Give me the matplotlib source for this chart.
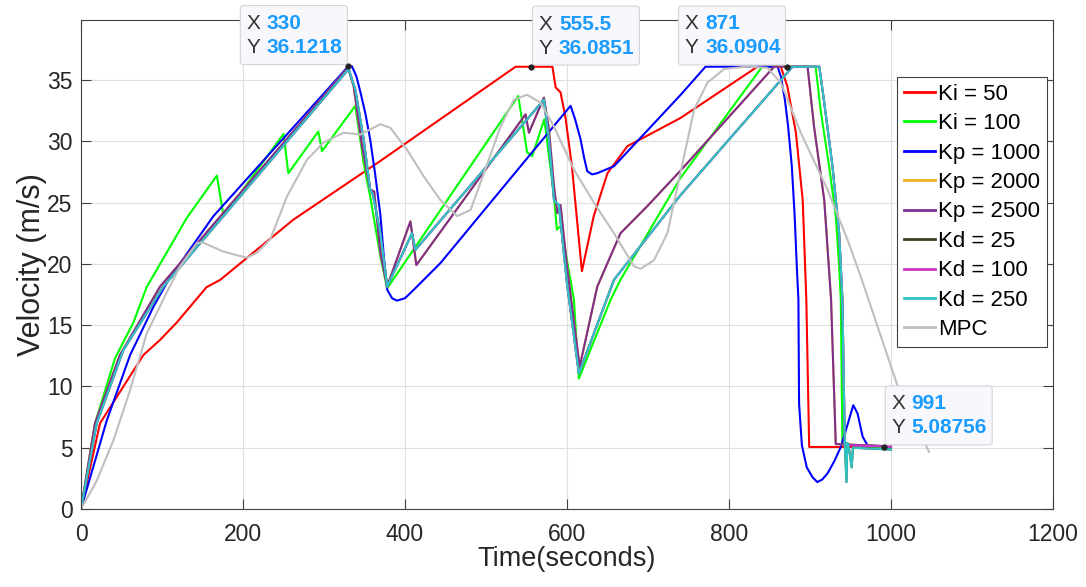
import matplotlib
matplotlib.use('Agg')
import matplotlib.pyplot as plt
from matplotlib.patches import FancyBboxPatch
from matplotlib.transforms import ScaledTranslation

plt.rcParams['font.family'] = ['Liberation Sans', 'DejaVu Sans']

# ---------------- data ----------------
ki50_t = [0, 23.5, 77, 97.6, 118, 155, 172, 262, 369.6, 536.5, 582, 586, 592, 598, 606, 618.4,
          633, 650, 674.5, 740, 835, 864, 872, 882.6, 891, 895.5, 899, 1000]
ki50_v = [0, 7.0, 12.56, 13.8, 15.2, 18.1, 18.7, 23.6, 28.4, 36.0851, 36.0851, 34.4, 34.0, 32.0, 28.0, 19.4,
          23.9, 27.4, 29.6, 31.9, 36.0851, 36.0851, 34.5, 30.7, 25.2, 17.0, 5.06, 5.06]

ki100_t = [0, 17.3, 42, 64.6, 81, 130.6, 167.7, 176, 250, 256, 293, 297.5, 338.7, 349, 357, 369.6,
           377.9, 539.8, 550.8, 557, 572, 584, 587.5, 592.5, 608.5, 614.7, 654, 666, 740,
           841, 907, 913, 923.5, 931.8, 936, 938, 940, 1000]
ki100_v = [0, 7.0, 12.3, 15.2, 18.1, 23.75, 27.2, 23.9, 30.6, 27.4, 30.8, 29.2, 32.9, 28.2, 25.5, 20.6,
           18.0, 33.7, 29.1, 28.8, 31.8, 25.5, 22.8, 23.1, 17.1, 10.65, 17.1, 18.7, 27.0,
           36.0904, 36.0904, 32.6, 28.0, 23.9, 19.8, 17.1, 5.3, 4.95]

kp1000_t = [0, 31.7, 60.6, 89.4, 108, 163.5, 330, 334.5, 340, 345, 351, 357, 363, 369.6, 374, 378,
            384, 390, 400, 411, 443.8, 604.4, 610, 616.8, 621, 625, 631, 637.4, 658, 740.4, 771,
            860, 864, 869, 873, 877.5, 881, 883.7, 885.7, 886.5, 890, 896, 903, 909, 915, 921.6,
            930, 938, 946, 953.4, 958.7, 965, 971, 1000]
kp1000_v = [0, 7.2, 12.56, 16.5, 18.7, 23.9, 36.1218, 36.1218, 35.3, 34.0, 32.3, 30.15, 27.4, 24.0, 20.5, 17.9,
            17.2, 17.0, 17.2, 17.9, 20.07, 32.9, 31.8, 30.15, 28.7, 27.56, 27.3, 27.4, 27.97, 33.8, 36.0904,
            36.0904, 35.3, 33.4, 31.2, 28.0, 24.0, 19.8, 17.1, 8.6, 5.2, 3.4, 2.6, 2.2, 2.4, 2.9,
            3.9, 5.06, 6.8, 8.47, 7.8, 5.9, 5.2, 5.1]

kp2000_t = [0, 17.3, 48, 97.6, 329.6, 336.6, 347, 357, 362, 369.6, 377.9, 406.7, 414, 548.8, 553,
            571.5, 577.6, 584, 588, 592, 600, 615.6, 637.4, 666, 699, 740, 855.7, 897, 905, 917.6,
            926, 931.8, 1000]
kp2000_v = [0, 7.0, 12.56, 18.15, 36.0, 34.5, 29.6, 26.06, 25.9, 20.9, 18.15, 23.47, 19.9, 32.2, 30.7,
            33.57, 31.0, 26.3, 24.15, 24.8, 19.8, 11.6, 18.15, 22.5, 24.7, 27.6, 36.0904, 36.0904, 31.2, 25.2,
            17.1, 5.3, 5.1]

kp2500_t = [0, 17.3, 48, 97.6, 329.6, 336.6, 347, 357, 362, 369.6, 377.9, 406.7, 414, 548.8, 553,
            571.5, 577.6, 584, 588, 592, 600, 615.6, 637.4, 666, 699, 740, 855.7, 897, 905, 917.6,
            926, 931.8, 1000]
kp2500_v = [0, 7.0, 12.56, 18.15, 36.0, 34.5, 29.6, 26.06, 25.9, 20.9, 18.15, 23.47, 19.9, 32.2, 30.7,
            33.57, 31.0, 26.3, 24.15, 24.8, 19.8, 11.6, 18.15, 22.5, 24.7, 27.6, 36.0904, 36.0904, 31.2, 25.2,
            17.1, 5.3, 5.1]

kd25_t = [0, 19.4, 52.3, 101.7, 330.4, 338.7, 349, 357, 360.5, 369.6, 378, 408.7, 412.8, 571.5,
          577.6, 584, 590, 600, 614.7, 658, 740, 878.5, 911.5, 917.6, 927.7, 936, 940, 943,
          945, 946, 948, 951.5, 953, 1000]
kd25_v = [0, 7.0, 12.97, 18.15, 35.9, 34.2, 30.15, 26.06, 25.6, 22.5, 18.15, 22.5, 21.15, 33.4,
          30.15, 25.2, 24.8, 18.4, 11.06, 18.7, 25.6, 36.0904, 36.0904, 33.15, 28.0, 22.5, 17.1, 5.3,
          2.2, 5.4, 5.0, 3.4, 5.0, 4.85]

kd100_t = [0, 19.4, 52.3, 101.7, 330.4, 338.7, 349, 357, 360.5, 369.6, 378, 408.7, 412.8, 571.5,
           577.6, 584, 590, 600, 614.7, 658, 740, 878.5, 911.5, 917.6, 927.7, 936, 940, 943, 1000]
kd100_v = [0, 7.0, 12.97, 18.15, 35.9, 34.2, 30.15, 26.06, 25.6, 22.5, 18.15, 22.5, 21.15, 33.4,
           30.15, 25.2, 24.8, 18.4, 11.06, 18.7, 25.6, 36.0904, 36.0904, 33.15, 28.0, 22.5, 17.1, 5.2, 5.09]

kd250_t = [0, 19.4, 52.3, 101.7, 330.4, 338.7, 349, 357, 360.5, 369.6, 378, 408.7, 412.8, 571.5,
           577.6, 584, 590, 600, 614.7, 658, 740, 878.5, 911.5, 917.6, 927.7, 936, 940, 943,
           945, 946, 948, 951.5, 953, 1000]
kd250_v = [0, 7.0, 12.97, 18.15, 35.9, 34.2, 30.15, 26.06, 25.6, 22.5, 18.15, 22.5, 21.15, 33.4,
           30.15, 25.2, 24.8, 18.4, 11.06, 18.7, 25.6, 36.0904, 36.0904, 33.15, 28.0, 22.5, 17.1, 5.3,
           2.2, 5.4, 5.0, 3.4, 5.0, 4.85]

mpc_t = [0, 19.4, 40, 60.6, 81, 106, 122.4, 143, 150, 176, 204.8, 217, 233.6, 254.3, 279, 299.5,
         324, 345, 369.6, 382, 402.6, 423, 443.8, 464.3, 481, 497.4, 518, 534.5, 550.8, 567.3,
         583.9, 608.5, 633.2, 658, 682.7, 690.9, 707.4, 723.9, 740, 757, 773.5, 794, 822.6, 847,
         864, 888.6, 921.6, 946.3, 963, 1008.5, 1047]
mpc_v = [0, 2.3, 5.6, 9.7, 14.3, 17.7, 19.8, 21.7, 21.75, 21.0, 20.5, 20.9, 22.0, 25.5, 28.5, 29.9,
         30.7, 30.56, 31.4, 31.1, 29.3, 27.15, 25.2, 23.9, 24.4, 27.4, 31.2, 33.4, 33.8, 33.15,
         31.2, 27.7, 25.0, 22.5, 19.8, 19.6, 20.3, 22.5, 27.4, 32.6, 34.8, 35.9, 36.1, 36.0,
         34.8, 30.7, 26.06, 21.97, 18.9, 9.97, 4.65]

labels = ['Ki = 50', 'Ki = 100', 'Kp = 1000', 'Kp = 2000', 'Kp = 2500',
          'Kd = 25', 'Kd = 100', 'Kd = 250', 'MPC']
colors = ['#FF0000', '#00FF00', '#0000FF', '#EDB120', '#7E2F8E',
          '#3F3F22', '#CC33CC', '#2EC4C4', '#BFBFBF']
series = [(ki50_t, ki50_v), (ki100_t, ki100_v), (kp1000_t, kp1000_v), (kp2000_t, kp2000_v),
          (kp2500_t, kp2500_v), (kd25_t, kd25_v), (kd100_t, kd100_v), (kd250_t, kd250_v),
          (mpc_t, mpc_v)]

tip_x = [330, 555.5, 871, 991]
tip_y = [36.1218, 36.0851, 36.0904, 5.08756]
tip_side = ['left', 'right', 'left', 'right']

x_ticks = [0, 200, 400, 600, 800, 1000, 1200]
y_ticks = [0, 5, 10, 15, 20, 25, 30, 35]

# ---------------- figure ----------------
W, H = 1086, 587
fig = plt.figure(figsize=(W / 100, H / 100), dpi=100)
ax = fig.add_axes([81 / W, (H - 509) / H, (1053 - 81) / W, (509 - 20) / H])

for (t, v), lab, c in zip(series, labels, colors):
    ax.plot(t, v, color=c, lw=1.5, label=lab)

ax.set_xlim(0, 1200)
ax.set_ylim(0, 39.9)
ax.set_xticks(x_ticks)
ax.set_yticks(y_ticks)
ax.grid(True, color='#DFDFDF', lw=0.8)
ax.set_axisbelow(True)
for s in ax.spines.values():
    s.set_color('#404040')
    s.set_linewidth(0.8)
ax.tick_params(direction='in', length=7, width=0.8, color='#404040', top=True, right=True,
               labelsize=16.5, labelcolor='#262626')
ax.tick_params(axis='x', pad=10)
ax.tick_params(axis='y', pad=6)
ax.set_xlabel('Time(seconds)', fontsize=19.5, color='#262626', labelpad=0)
ax.set_ylabel('Velocity (m/s)', fontsize=22, color='#262626', labelpad=0)

leg = ax.legend(loc='upper right', bbox_to_anchor=((1047 - 81) / (1053 - 81), (509 - 77) / (509 - 20)),
                borderaxespad=0, fontsize=16, handlelength=1.4, handletextpad=0.15,
                labelspacing=0.38, borderpad=0.3, fancybox=False, framealpha=1)
leg.get_frame().set_edgecolor('#404040')
leg.get_frame().set_linewidth(0.8)
for lh in leg.get_lines():
    lh.set_linewidth(2)

# ---------------- data tips ----------------
for x, y, side in zip(tip_x, tip_y, tip_side):
    trans = fig.dpi_scale_trans + ScaledTranslation(x, y, ax.transData)
    w, h = 1.07, 0.59
    x0 = -1.08 if side == 'left' else 0.015
    y0 = 0.017
    box = FancyBboxPatch((x0, y0), w, h, boxstyle='round,pad=0,rounding_size=0.03',
                         transform=trans, fc='#F8F8FC', ec='#D4D4D8', lw=0.8,
                         clip_on=False, zorder=10)
    fig.add_artist(box)
    for yy, letter, val in [(0.427, 'X', f'{x:g}'), (0.187, 'Y', f'{y:g}')]:
        fig.text(x0 + 0.06, yy, letter, transform=trans, fontsize=15, color='#333333',
                 va='center', ha='left', zorder=11)
        fig.text(x0 + 0.265, yy, val, transform=trans, fontsize=15, color='#1A9BFF',
                 fontweight='bold', va='center', ha='left', zorder=11)
    ax.plot([x], [y], 'o', ms=3.5, color='#222222', clip_on=False, zorder=12)

fig.savefig('out.png', dpi=100)
